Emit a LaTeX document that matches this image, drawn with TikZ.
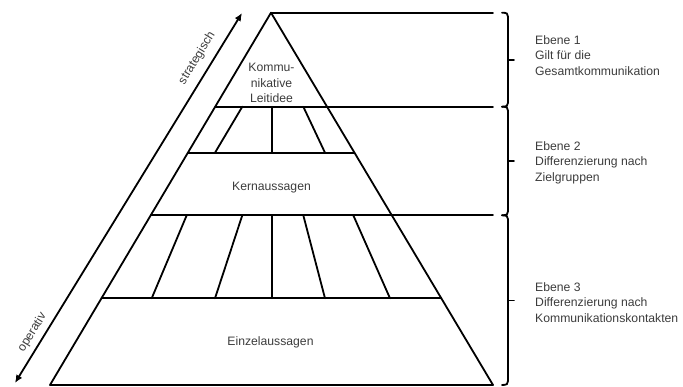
\documentclass[tikz,border=0pt]{standalone}
\usepackage{fontspec}
\setmainfont{Liberation Sans}
\usetikzlibrary{arrows.meta}
\definecolor{txtgray}{HTML}{3C3C3C}
\tikzset{
  edge/.style={line width=1.8pt, line cap=round, line join=round},
  label/.style={text=txtgray, font=\fontsize{12.2}{15.5}\selectfont, inner sep=0pt},
  levelbrace/.style={line width=1.8pt, line cap=round},
}
\newcommand{\levelbrace}[3]{%
  % bracket from #1 to #2 (y values) with tick at #3
  \draw[levelbrace] (502,#1) .. controls (507,#1) and (508,#1+1) .. (508,#1+4)
     -- (508,#2-4) .. controls (508,#2-1) and (507,#2) .. (502,#2);
  \draw[levelbrace] (508,#3) -- (514,#3);
}
\begin{document}
\begin{tikzpicture}[x=1pt,y=-1pt]
\useasboundingbox (0,0) rectangle (683,387);

% pyramid outline
\coordinate (apex) at (271,12.7);
\coordinate (bl) at (50,385);
\coordinate (br) at (493,385);
\draw[edge] (apex) -- (bl) -- (br) -- cycle;

% level boundaries
\coordinate (l1) at (215.2,106.7);  \coordinate (r1) at (493,106.7);
\coordinate (l2) at (187.9,152.7);  \coordinate (r2) at (354.5,152.7);
\coordinate (l3) at (150.7,215.3);  \coordinate (r3) at (493,215.3);
\coordinate (l4) at (101.5,298.3);  \coordinate (r4) at (441.3,298.3);
\coordinate (t0) at (493,12.7);
\draw[edge] (apex) -- (t0);
\draw[edge] (l1) -- (r1);
\draw[edge] (l2) -- (r2);
\draw[edge] (l3) -- (r3);
\draw[edge] (l4) -- (r4);

% segments of level 2
\foreach \xt/\xb [count=\i] in {242.3/215, 271.7/271.7, 303.3/325}{
  \coordinate (sa\i) at (\xt,106.7);
  \coordinate (sb\i) at (\xb,152.7);
  \draw[edge] (sa\i) -- (sb\i);
}
% segments of level 3
\foreach \xt/\xb [count=\i] in {186.7/151.7, 242.3/215, 271.7/271.7, 303.3/325, 353.3/390}{
  \coordinate (ua\i) at (\xt,215.3);
  \coordinate (ub\i) at (\xb,298.3);
  \draw[edge] (ua\i) -- (ub\i);
}

% texts inside the pyramid
\node[label, align=center] (leitidee) at (271.5,83) {Kommu-\\nikative\\Leitidee};
\node[label] (kern) at (271.5,188) {Kernaussagen};
\node[label] (einzel) at (270.5,342.7) {Einzelaussagen};

% strategic / operative arrow
\coordinate (opend) at (15,383);
\coordinate (stend) at (242,13);
\draw[line width=1.8pt, {Latex[length=8pt,width=7pt]}-{Latex[length=8pt,width=7pt]}]
  (opend) -- (stend)
  node[label, sloped, above=8pt, pos=0.857] (strat) {strategisch}
  node[label, sloped, above=5pt, pos=0.12] (oper) {operativ};

% brackets on the right
\levelbrace{12.7}{106.7}{59.7}
\levelbrace{106.7}{215.3}{161}
\levelbrace{215.3}{385}{300.5}

% level descriptions
\node[label, anchor=west, align=left] (e1) at (535,55.3)
  {Ebene 1\\Gilt für die\\Gesamtkommunikation};
\node[label, anchor=west, align=left] (e2) at (535,162.6)
  {Ebene 2\\Differenzierung nach\\Zielgruppen};
\node[label, anchor=west, align=left] (e3) at (535,302.2)
  {Ebene 3\\Differenzierung nach\\Kommunikationskontakten};
\end{tikzpicture}
\end{document}
